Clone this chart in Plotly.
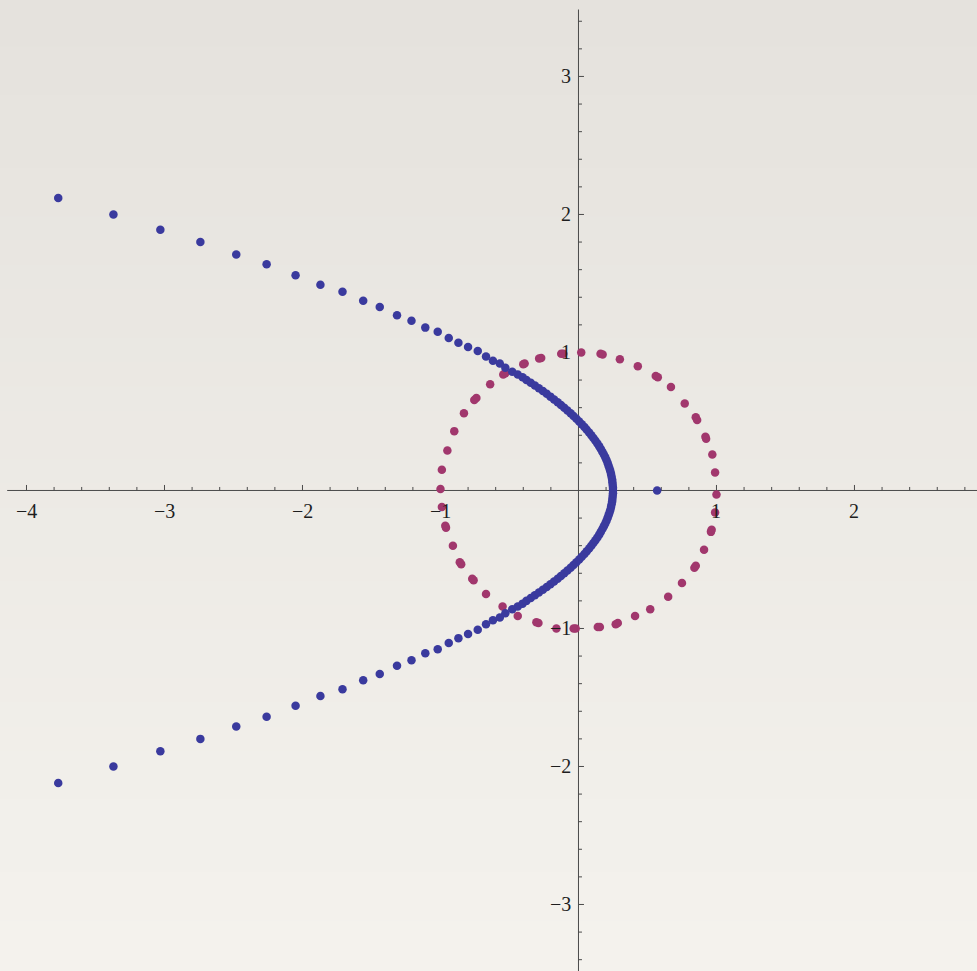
import plotly.graph_objects as go

# Parabola-shaped point set (upper branch, outer end -> vertex)
blue_upper_x = [-3.77, -3.37, -3.03, -2.74, -2.48, -2.26, -2.05, -1.87, -1.71, -1.56,
                -1.44, -1.315, -1.21, -1.11, -1.02, -0.94, -0.87, -0.80, -0.73, -0.67,
                -0.62, -0.57, -0.53, -0.48, -0.44, -0.405,
                -0.377, -0.346, -0.316, -0.287, -0.258, -0.230, -0.203, -0.177, -0.151, -0.127,
                -0.103, -0.080, -0.057, -0.036, -0.015, 0.005, 0.024, 0.043, 0.060, 0.077,
                0.093, 0.108, 0.123, 0.137, 0.150, 0.162, 0.173, 0.184, 0.194, 0.203,
                0.211, 0.218, 0.225, 0.231, 0.236, 0.240, 0.244, 0.246, 0.248, 0.250, 0.250]
blue_upper_y = [2.12, 2.00, 1.89, 1.80, 1.71, 1.64, 1.56, 1.49, 1.44, 1.375,
                1.33, 1.27, 1.23, 1.18, 1.15, 1.105, 1.07, 1.04, 1.01, 0.97,
                0.94, 0.92, 0.89, 0.86, 0.84, 0.82,
                0.80, 0.78, 0.76, 0.74, 0.72, 0.70, 0.68, 0.66, 0.64, 0.62,
                0.60, 0.58, 0.56, 0.54, 0.52, 0.50, 0.48, 0.46, 0.44, 0.42,
                0.40, 0.38, 0.36, 0.34, 0.32, 0.30, 0.28, 0.26, 0.24, 0.22,
                0.20, 0.18, 0.16, 0.14, 0.12, 0.10, 0.08, 0.06, 0.04, 0.02, 0.00]

# Lower branch (outer end -> vertex)
blue_lower_x = [-3.77, -3.37, -3.03, -2.74, -2.48, -2.26, -2.05, -1.87, -1.71, -1.56,
                -1.44, -1.315, -1.21, -1.11, -1.02, -0.94, -0.87, -0.80, -0.73, -0.67,
                -0.62, -0.57, -0.53, -0.48, -0.44, -0.405,
                -0.377, -0.346, -0.316, -0.287, -0.258, -0.230, -0.203, -0.177, -0.151, -0.127,
                -0.103, -0.080, -0.057, -0.036, -0.015, 0.005, 0.024, 0.043, 0.060, 0.077,
                0.093, 0.108, 0.123, 0.137, 0.150, 0.162, 0.173, 0.184, 0.194, 0.203,
                0.211, 0.218, 0.225, 0.231, 0.236, 0.240, 0.244, 0.246, 0.248, 0.250]
blue_lower_y = [-2.12, -2.00, -1.89, -1.80, -1.71, -1.64, -1.56, -1.49, -1.44, -1.375,
                -1.33, -1.27, -1.23, -1.18, -1.15, -1.105, -1.07, -1.04, -1.01, -0.97,
                -0.94, -0.92, -0.89, -0.86, -0.84, -0.82,
                -0.80, -0.78, -0.76, -0.74, -0.72, -0.70, -0.68, -0.66, -0.64, -0.62,
                -0.60, -0.58, -0.56, -0.54, -0.52, -0.50, -0.48, -0.46, -0.44, -0.42,
                -0.40, -0.38, -0.36, -0.34, -0.32, -0.30, -0.28, -0.26, -0.24, -0.22,
                -0.20, -0.18, -0.16, -0.14, -0.12, -0.10, -0.08, -0.06, -0.04, -0.02]

# Single isolated point on the real axis
lone_x = [0.57]
lone_y = [0.0]

# Points around the unit circle
circle_x = [-1.00, -0.99, -0.95, -0.90, -0.83, -0.74, -0.755, -0.64, -0.53, -0.545,
            -0.39, -0.40, -0.27, -0.285, -0.11, -0.125, 0.02, 0.16, 0.175, 0.30,
            0.43, 0.56, 0.575, 0.67, 0.77, 0.85, 0.86, 0.92, 0.925, 0.97,
            0.99, 1.00,
            -0.99, -0.96, -0.965, -0.91, -0.85, -0.86, -0.76, -0.77, -0.67, -0.55,
            -0.44, -0.29, -0.305, -0.16, -0.02, -0.035, 0.14, 0.155, 0.27, 0.285,
            0.41, 0.52, 0.65, 0.75, 0.84, 0.85, 0.91, 0.96, 0.965, 0.99]
circle_y = [0.01, 0.15, 0.29, 0.43, 0.56, 0.67, 0.655, 0.77, 0.85, 0.84,
            0.92, 0.915, 0.96, 0.957, 0.99, 0.99, 1.00, 0.99, 0.985, 0.95,
            0.90, 0.83, 0.82, 0.75, 0.63, 0.53, 0.51, 0.39, 0.375, 0.26,
            0.13, -0.03,
            -0.12, -0.27, -0.255, -0.40, -0.535, -0.52, -0.65, -0.64, -0.75, -0.84,
            -0.91, -0.96, -0.955, -1.00, -1.00, -1.00, -0.99, -0.99, -0.97, -0.96,
            -0.91, -0.86, -0.77, -0.67, -0.56, -0.545, -0.43, -0.30, -0.285, -0.16]

x_ticks = [-4, -3, -2, -1, 1, 2]
y_ticks = [-3, -2, -1, 1, 2, 3]

BLUE = "#3a3a9e"
MAGENTA = "#a1376d"
AXIS = "#4a4a4a"
LABEL_FONT = dict(family="Liberation Serif", size=20, color="#1e1e1e")

X_RANGE = [-4.192, 2.888]
Y_RANGE = [-3.482, 3.554]

fig = go.Figure()

fig.add_trace(go.Scatter(x=circle_x, y=circle_y, mode="markers",
                         marker=dict(color=MAGENTA, size=8.5, line=dict(width=0)),
                         hoverinfo="x+y"))
fig.add_trace(go.Scatter(x=blue_upper_x + blue_lower_x + lone_x,
                         y=blue_upper_y + blue_lower_y + lone_y, mode="markers",
                         marker=dict(color=BLUE, size=8.5, line=dict(width=0)),
                         hoverinfo="x+y"))

shapes = []
# paper-like background with a soft vertical gradient
n_strips = 40
top_rgb = (229, 226, 221)
bot_rgb = (244, 242, 237)
for i in range(n_strips):
    t = i / (n_strips - 1)
    c = tuple(round(top_rgb[k] + (bot_rgb[k] - top_rgb[k]) * t) for k in range(3))
    shapes.append(dict(type="rect", xref="paper", yref="paper",
                       x0=0, x1=1, y0=1 - (i + 1) / n_strips, y1=1 - i / n_strips + 0.002,
                       fillcolor="rgb(%d,%d,%d)" % c, line=dict(width=0), layer="below"))

# axes crossing at the origin
shapes.append(dict(type="line", x0=-4.14, x1=X_RANGE[1], y0=0, y1=0,
                   line=dict(color=AXIS, width=1), layer="below"))
shapes.append(dict(type="line", x0=0, x1=0, y0=Y_RANGE[0], y1=3.485,
                   line=dict(color=AXIS, width=1), layer="below"))

# tick marks: major every 1, minor every 0.2
px = 138.0
for i in range(-20, 15):
    v = i * 0.2
    if abs(v) < 1e-9 or v < -4.14 or v > X_RANGE[1]:
        continue
    major = abs(v - round(v)) < 1e-9
    h = (5.5 if major else 3.5) / px
    shapes.append(dict(type="line", x0=v, x1=v, y0=0, y1=h,
                       line=dict(color=AXIS, width=1), layer="below"))
for i in range(-17, 18):
    v = i * 0.2
    if abs(v) < 1e-9 or v > 3.485 or v < Y_RANGE[0]:
        continue
    major = abs(v - round(v)) < 1e-9
    w = (5.5 if major else 3.5) / px
    shapes.append(dict(type="line", x0=0, x1=w, y0=v, y1=v,
                       line=dict(color=AXIS, width=1), layer="below"))

annotations = []
for v in x_ticks:
    txt = ("\u2212%d" % -v) if v < 0 else str(v)
    annotations.append(dict(x=v, y=0, text=txt, showarrow=False, xanchor="center",
                            yanchor="middle", yshift=-21, font=LABEL_FONT))
for v in y_ticks:
    txt = ("\u2212%d" % -v) if v < 0 else str(v)
    annotations.append(dict(x=0, y=v, text=txt, showarrow=False, xanchor="right",
                            yanchor="middle", xshift=-5, font=LABEL_FONT))

fig.update_layout(
    width=977, height=971,
    margin=dict(l=0, r=0, t=0, b=0),
    paper_bgcolor="#ebe8e3",
    plot_bgcolor="rgba(0,0,0,0)",
    showlegend=False,
    xaxis=dict(range=X_RANGE, visible=False, fixedrange=True),
    yaxis=dict(range=Y_RANGE, visible=False, fixedrange=True),
    shapes=shapes,
    annotations=annotations,
)

fig.write_html("out.html")
